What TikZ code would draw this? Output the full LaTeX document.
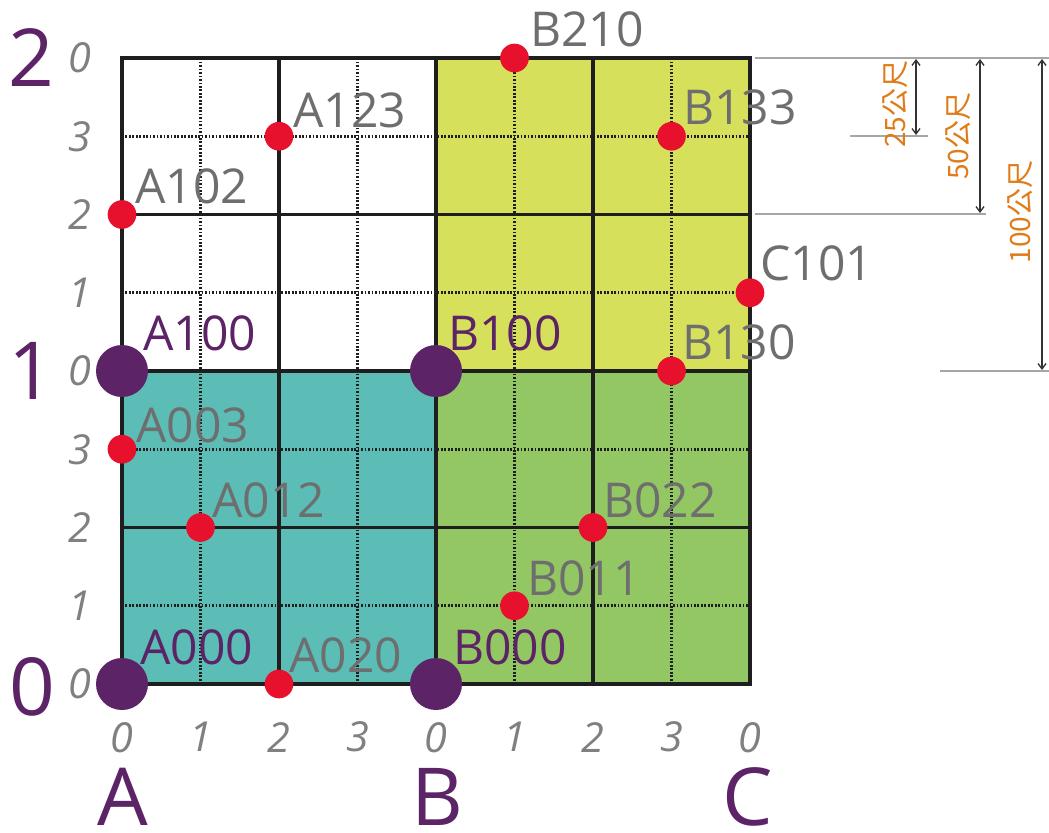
\documentclass[tikz,border=0pt]{standalone}
\usepackage{fontspec}
\setmainfont{Open Sans}
\newfontfamily\cjkfont{Noto Sans CJK TC}
\usetikzlibrary{arrows.meta}
\definecolor{cTeal}{HTML}{5BBDB6}
\definecolor{cGreen}{HTML}{93C763}
\definecolor{cYellow}{HTML}{D6E05B}
\definecolor{cPurple}{HTML}{5C2366}
\definecolor{cRed}{HTML}{E8112D}
\definecolor{cLabel}{HTML}{6E6E6E}
\definecolor{cAxis}{HTML}{808080}
\definecolor{cOrange}{HTML}{E07B18}
\definecolor{cLine}{HTML}{1E1E1E}
\begin{document}
\begin{tikzpicture}[x=0.75pt,y=-0.75pt,
  minorline/.style={cLine,line width=1.9pt,dash pattern=on 1.3pt off 1.3pt},
  majorline/.style={cLine,line width=2.6pt},
  reddot/.style={circle,fill=cRed,minimum size=21.5pt,inner sep=0pt},
  bigdot/.style={circle,fill=cPurple,minimum size=39pt,inner sep=0pt},
  lbl/.style={anchor=west,inner sep=0pt,text=cLabel,font=\fontsize{36pt}{36pt}\selectfont},
  plbl/.style={lbl,text=cPurple},
  axisnum/.style={inner sep=0pt,text=cAxis,font=\fontsize{31pt}{31pt}\selectfont\itshape},
  bignum/.style={inner sep=0pt,text=cPurple,font=\fontsize{60pt}{60pt}\selectfont},
  guide/.style={draw=black!35,line width=0.8pt},
  dimarrow/.style={draw=black!80,line width=1pt,{Straight Barb[length=4pt,width=6pt]}-{Straight Barb[length=4pt,width=6pt]}},
  dimlbl/.style={inner sep=0pt,text=cOrange,rotate=90,font=\fontsize{21pt}{21pt}\cjkfont}]
\useasboundingbox (0,0) rectangle (1049,832);
\fill[white] (0,0) rectangle (1049,832);
\begin{scope}[shift={(122,684)},x=58.875pt,y=58.6875pt]
  \fill[cTeal] (0,0) rectangle (4,4);
  \fill[cGreen] (4,0) rectangle (8,4);
  \fill[cYellow] (4,4) rectangle (8,8);
  \foreach \i in {1,3,5,7} {
    \draw[minorline] (\i,0) -- (\i,8);
    \draw[minorline] (0,\i) -- (8,\i);
  }
  \foreach \i in {2,4,6} {
    \draw[majorline] (\i,0) -- (\i,8);
    \draw[majorline] (0,\i) -- (8,\i);
  }
  \draw[majorline,line width=3pt] (0,0) rectangle (8,8);
  % dots
  \node[bigdot] (A000) at (0,0) {};
  \node[bigdot] (B000) at (4,0) {};
  \node[bigdot] (A100) at (0,4) {};
  \node[bigdot] (B100) at (4,4) {};
  \node[reddot] (A020) at (2,0) {};
  \node[reddot] (A012) at (1,2) {};
  \node[reddot] (A003) at (0,3) {};
  \node[reddot] (B011) at (5,1) {};
  \node[reddot] (B022) at (6,2) {};
  \node[reddot] (B130) at (7,4) {};
  \node[reddot] (C101) at (8,5) {};
  \node[reddot] (A102) at (0,6) {};
  \node[reddot] (A123) at (2,7) {};
  \node[reddot] (B133) at (7,7) {};
  \node[reddot] (B210) at (5,8) {};
  % axis numbers
  \foreach \v/\n [count=\k from 0] in {0/bx0,1/bx1,2/bx2,3/bx3,0/bx4,1/bx5,2/bx6,3/bx7,0/bx8} {
    \node[axisnum] (\n) at (\k,-0.68) {\v};
  }
  \foreach \v/\n [count=\k from 0] in {0/ly0,1/ly1,2/ly2,3/ly3,0/ly4,1/ly5,2/ly6,3/ly7,0/ly8} {
    \node[axisnum] (\n) at (-0.54,\k) {\v};
  }
\end{scope}
% labels
\node[plbl] (tA000) at (140,647) {A000};
\node[lbl]  (tA020) at (289,655) {A020};
\node[plbl] (tB000) at (453,647) {B000};
\node[lbl]  (tB011) at (527,578) {B011};
\node[lbl]  (tA012) at (212,500) {A012};
\node[lbl]  (tB022) at (603,500) {B022};
\node[lbl]  (tA003) at (136,425) {A003};
\node[plbl] (tA100) at (143,333) {A100};
\node[plbl] (tB100) at (448,333) {B100};
\node[lbl]  (tB130) at (682,342) {B130};
\node[lbl]  (tC101) at (760,263) {C101};
\node[lbl]  (tA102) at (135,186) {A102};
\node[lbl]  (tA123) at (293,110) {A123};
\node[lbl]  (tB133) at (683,107) {B133};
\node[lbl]  (tB210) at (530,29) {B210};
% big letters
\node[bignum] (n2) at (31,58) {2};
\node[bignum] (n1) at (31,371) {1};
\node[bignum] (n0) at (32,687) {0};
\node[bignum] (lA) at (123,797) {A};
\node[bignum] (lB) at (437,797) {B};
\node[bignum] (lC) at (748,797) {C};
% dimension guides
\coordinate (g1a) at (755,58);   \coordinate (g1b) at (1049,58);
\coordinate (g2a) at (850,136);  \coordinate (g2b) at (928,136);
\coordinate (g3a) at (755,214);  \coordinate (g3b) at (986,214);
\coordinate (g4a) at (940,371);  \coordinate (g4b) at (1049,371);
\draw[guide] (g1a) -- (g1b);
\draw[guide] (g2a) -- (g2b);
\draw[guide] (g3a) -- (g3b);
\draw[guide] (g4a) -- (g4b);
\coordinate (d25t) at (916,59);  \coordinate (d25b) at (916,135);
\coordinate (d50t) at (980,59);  \coordinate (d50b) at (980,213);
\coordinate (d100t) at (1042,59); \coordinate (d100b) at (1042,370);
\draw[dimarrow] (d25t) -- (d25b);
\draw[dimarrow] (d50t) -- (d50b);
\draw[dimarrow] (d100t) -- (d100b);
\node[dimlbl] (t25) at (895,104) {25公尺};
\node[dimlbl] (t50) at (958,136) {50公尺};
\node[dimlbl] (t100) at (1020,212) {100公尺};
\end{tikzpicture}
\end{document}
